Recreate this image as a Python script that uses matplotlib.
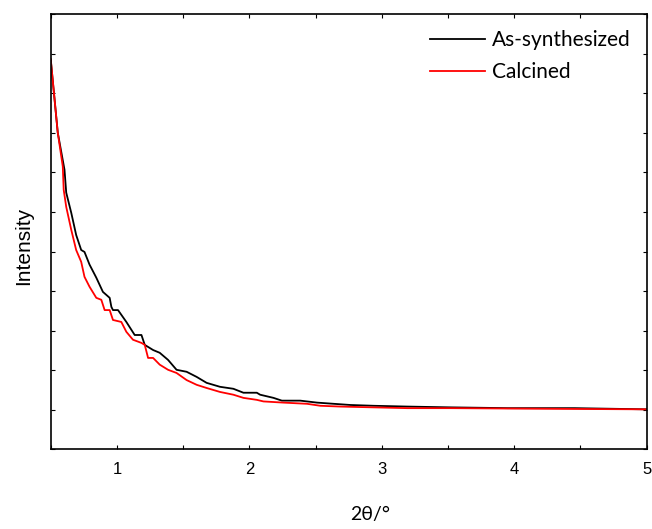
import numpy as np
import matplotlib
matplotlib.use("Agg")
import matplotlib.pyplot as plt
from matplotlib.ticker import MultipleLocator, NullFormatter

# 2theta (deg) and intensity (a.u.)
two_theta_as = [0.5, 0.553, 0.604, 0.617, 0.655, 0.692, 0.730, 0.755, 0.793, 0.844,
                0.894, 0.945, 0.958, 0.970, 1.008, 1.071, 1.134, 1.185, 1.210, 1.273,
                1.323, 1.386, 1.450, 1.526, 1.602, 1.677, 1.778, 1.879, 1.955, 2.056,
                2.081, 2.182, 2.245, 2.384, 2.511, 2.636, 2.763, 2.939, 3.192, 3.520,
                3.95, 4.455, 5.0]
intensity_as = [9.86, 8.01, 7.07, 6.49, 5.98, 5.42, 5.04, 4.99, 4.67, 4.34,
                3.98, 3.83, 3.60, 3.52, 3.52, 3.22, 2.89, 2.89, 2.64, 2.51,
                2.44, 2.26, 2.01, 1.96, 1.83, 1.68, 1.58, 1.53, 1.43, 1.43,
                1.38, 1.30, 1.23, 1.23, 1.18, 1.15, 1.12, 1.10, 1.08, 1.06,
                1.04, 1.04, 1.01]

two_theta_calc = [0.5, 0.553, 0.591, 0.598, 0.617, 0.655, 0.692, 0.730, 0.755, 0.793,
                  0.844, 0.882, 0.907, 0.945, 0.970, 1.033, 1.071, 1.121, 1.185, 1.210,
                  1.235, 1.273, 1.323, 1.386, 1.450, 1.526, 1.602, 1.677, 1.778, 1.879,
                  1.955, 2.056, 2.106, 2.258, 2.435, 2.536, 2.688, 2.939, 3.192, 3.520,
                  4.452, 5.0]
intensity_calc = [9.86, 8.01, 7.15, 6.56, 6.13, 5.55, 5.04, 4.74, 4.36, 4.11,
                  3.83, 3.78, 3.52, 3.52, 3.27, 3.22, 2.97, 2.77, 2.69, 2.64,
                  2.31, 2.31, 2.14, 2.01, 1.93, 1.75, 1.63, 1.55, 1.45, 1.38,
                  1.30, 1.25, 1.21, 1.18, 1.15, 1.10, 1.08, 1.06, 1.04, 1.04,
                  1.02, 1.01]

series_labels = ["As-synthesized", "Calcined"]

fig = plt.figure(figsize=(6.52, 5.29), dpi=100)
ax = fig.add_axes([0.0778, 0.1507, 0.9141, 0.8223])

ax.plot(two_theta_as, intensity_as, color="black", lw=1.3, label=series_labels[0])
ax.plot(two_theta_calc, intensity_calc, color="red", lw=1.3, label=series_labels[1])

ax.set_xlim(0.5, 5)
ax.set_ylim(0, 11)
ax.xaxis.set_major_locator(MultipleLocator(1))
ax.xaxis.set_minor_locator(MultipleLocator(0.5))
ax.yaxis.set_major_locator(MultipleLocator(1))
ax.yaxis.set_major_formatter(NullFormatter())
ax.tick_params(which="both", direction="in", top=True, right=True, width=0.8)
ax.tick_params(which="major", length=3)
ax.tick_params(which="minor", length=3)
ax.tick_params(axis="x", which="major", pad=9)
for lbl in ax.get_xticklabels():
    lbl.set_family("Liberation Sans")
    lbl.set_fontsize(12)
for sp in ax.spines.values():
    sp.set_linewidth(1.2)

ax.set_ylabel("Intensity", family="Liberation Sans", fontsize=15)
ax.yaxis.set_label_coords(-0.03, 0.467)
fig.text(0.567, 0.028, "2θ/°", family="Lato", fontsize=14, ha="center", va="center")

ax.legend(loc="upper right", frameon=False, prop={"family": "Lato", "size": 15},
          handlelength=2.65, handletextpad=0.35, labelspacing=0.6,
          borderaxespad=0.3, borderpad=0.45)

fig.savefig("out.png", dpi=100)
